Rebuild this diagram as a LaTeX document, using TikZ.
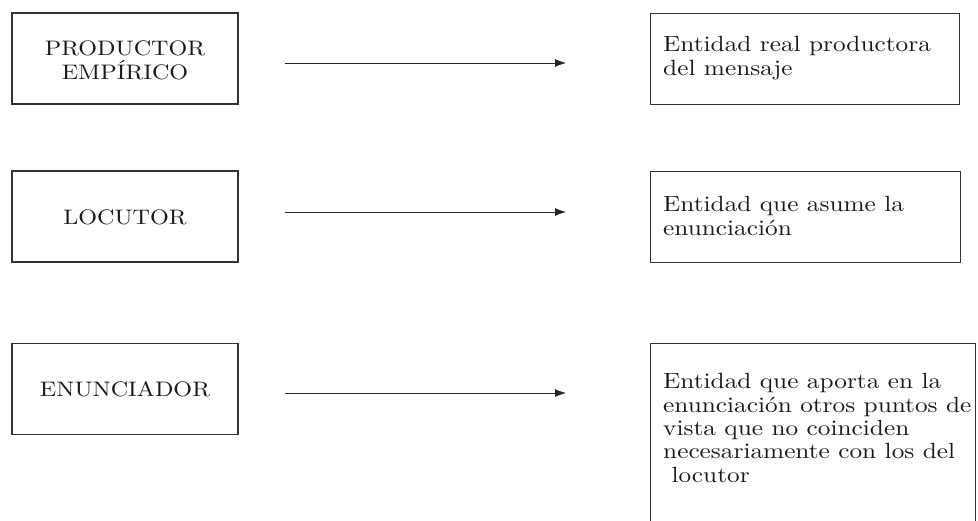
\documentclass[tikz,border=0pt]{standalone}
\usepackage{fontspec}
\setmainfont{lmroman10-regular}[Extension=.otf, FakeStretch=1.15]
\usetikzlibrary{arrows.meta}
\begin{document}
\begin{tikzpicture}[x=1pt,y=-1pt,
  box/.style={draw=black!80, line width=1.1pt, rectangle, inner sep=0pt},
  lbox/.style={box, minimum width=226pt, minimum height=91pt},
  ltext/.style={align=center, anchor=base, inner sep=0pt, font=\fontsize{21}{24}\selectfont, text=black!90},
  rtext/.style={align=left, anchor=base west, font=\fontsize{22}{23.3}\selectfont, text=black!90, inner sep=0pt},
  conn/.style={draw=black!85, line width=0.8pt, -{Latex[length=11pt,width=8pt]}}]
\useasboundingbox (0,0) rectangle (978,520);
\clip (0,0) rectangle (978,520);
% left boxes
\node[lbox] (b1) at (125,58.5) {};
\node[lbox] (b2) at (125,216.5) {};
\node[lbox] (b3) at (125,389) {};
\node[ltext] (t1) at (125,79) {PRODUCTOR\\EMPÍRICO};
\node[ltext] (t2) at (125,224) {LOCUTOR};
\node[ltext] (t3) at (125,396) {ENUNCIADOR};
% right boxes
\node[box, anchor=north west, minimum width=309pt, minimum height=91pt] (r1) at (650,13) {};
\node[box, anchor=north west, minimum width=310pt, minimum height=91pt] (r2) at (650,171) {};
\node[box, anchor=north west, minimum width=325pt, minimum height=200pt] (r3) at (650,343) {};
\node[rtext] (s1) at (663,75) {Entidad real productora\\del mensaje};
\node[rtext] (s2) at (663,235) {Entidad que asume la\\enunciación};
\node[rtext] (s3) at (663,482) {Entidad que aporta en la\\enunciación otros puntos de\\vista que no coinciden\\necesariamente con los del\\\ locutor};
% arrows
\coordinate (a1s) at (285,63);  \coordinate (a1e) at (566,63);
\coordinate (a2s) at (285,212); \coordinate (a2e) at (566,212);
\coordinate (a3s) at (285,393); \coordinate (a3e) at (566,393);
\draw[conn] (a1s) -- (a1e);
\draw[conn] (a2s) -- (a2e);
\draw[conn] (a3s) -- (a3e);
\end{tikzpicture}
\end{document}
